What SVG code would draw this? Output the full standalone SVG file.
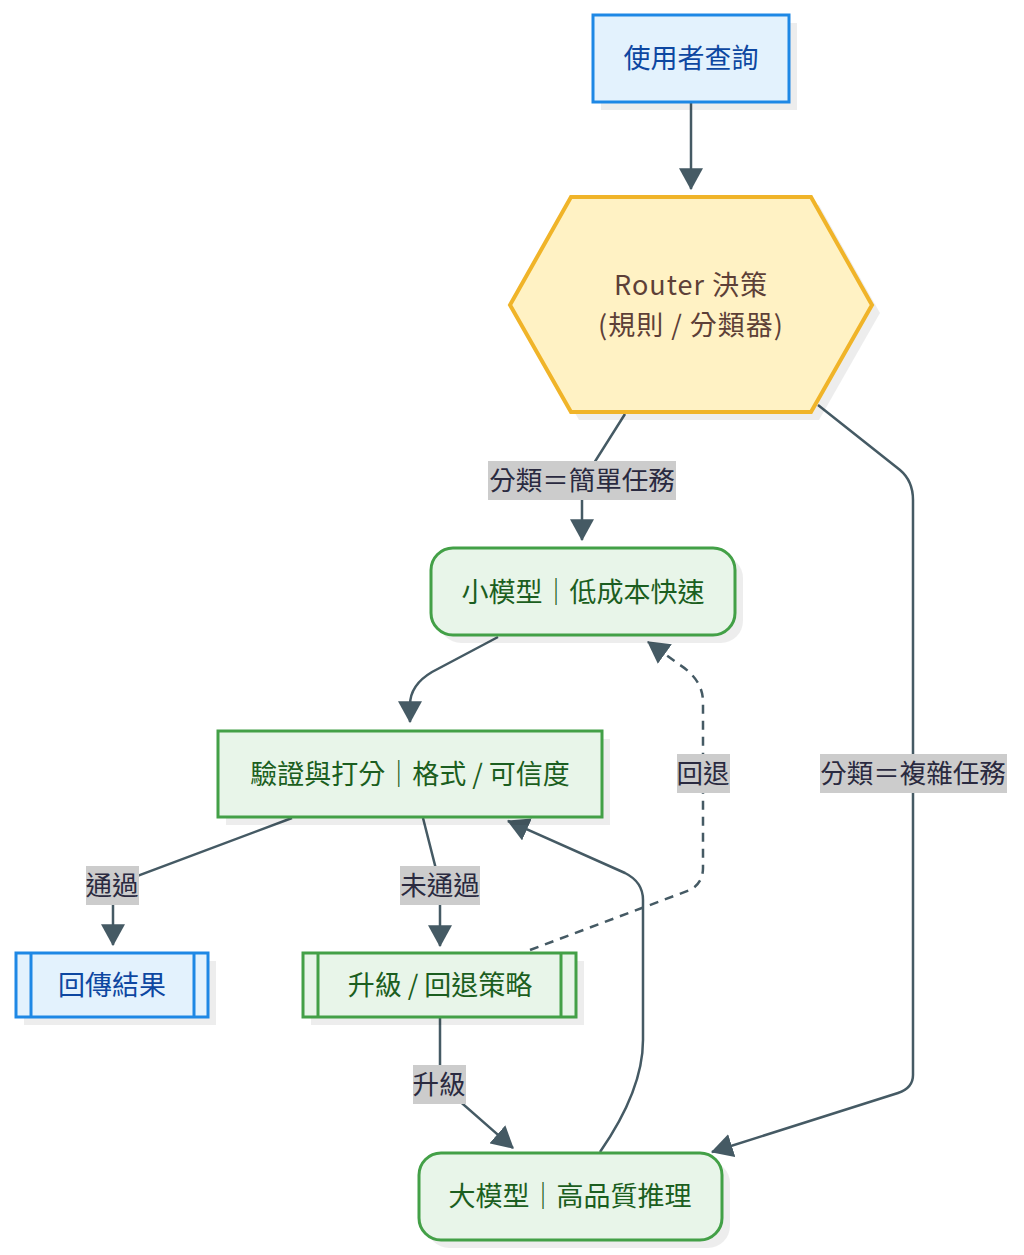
<svg xmlns="http://www.w3.org/2000/svg" width="1024" height="1255" viewBox="0 0 1024 1255">
<style>
  text { font-family: "Noto Sans CJK TC", "Noto Sans", sans-serif; font-size: 27px; text-anchor: middle; dominant-baseline: central; }
  .blue { fill: #e3f2fd; stroke: #1e88e5; stroke-width: 3; }
  .green { fill: #e8f5e9; stroke: #43a047; stroke-width: 3; }
  .yellow { fill: #fff2c4; stroke: #f0b429; stroke-width: 4; }
  .shadow { fill: #000; opacity: 0.07; }
  .tblue { fill: #0d47a1; }
  .tgreen { fill: #1b5e20; }
  .tyellow { fill: #5d4037; letter-spacing: 1px; }
  .edge { fill: none; stroke: #455a64; stroke-width: 2.5; }
  .dash { stroke-dasharray: 9 7; }
  .lbg { fill: #cccccc; }
  .ltxt { fill: #2a2a40; font-size: 26.5px; }
</style>
<defs>
  <marker id="arr" markerUnits="userSpaceOnUse" markerWidth="22" markerHeight="24" viewBox="0 0 20 22" refX="19" refY="11" orient="auto">
    <path d="M0,0 L20,11 L0,22 z" fill="#455a64"/>
  </marker>
</defs>
<rect width="1024" height="1255" fill="#ffffff"/>

<g id="edges">
  <path class="edge" d="M691,102 L691,189" marker-end="url(#arr)"/>
  <path class="edge" d="M625,414 L582,482 L582,540" marker-end="url(#arr)"/>
  <path class="edge" d="M818,405 L900,470 Q913,481 913,500 L913,1075 Q913,1088 898,1093 L712,1152" marker-end="url(#arr)"/>
  <path class="edge" d="M498,637 L432,672 Q410,685 410,705 L410,722" marker-end="url(#arr)"/>
  <path class="edge" d="M292,818 L113,885 L113,945" marker-end="url(#arr)"/>
  <path class="edge" d="M423,818 L440,885 L440,946" marker-end="url(#arr)"/>
  <path class="edge" d="M440,1018 L440,1084 L513,1148" marker-end="url(#arr)"/>
  <path class="edge" d="M600,1152 Q643,1090 643,1040 L643,900 Q643,882 625,873 L508,821" marker-end="url(#arr)"/>
  <path class="edge dash" d="M530,950 L690,890 Q703,883 703,868 L703,702 Q703,680 680,665 L648,642" marker-end="url(#arr)"/>
</g>

<g id="edge-labels">
  <g id="label-simple"><rect class="lbg" x="488" y="461" width="188" height="39"/><text class="ltxt" x="582" y="478">分類＝簡單任務</text></g>
  <g id="label-complex"><rect class="lbg" x="820" y="754" width="187" height="39"/><text class="ltxt" x="913" y="771">分類＝複雜任務</text></g>
  <g id="label-pass"><rect class="lbg" x="86" y="866" width="53" height="39"/><text class="ltxt" x="112" y="883">通過</text></g>
  <g id="label-fail"><rect class="lbg" x="400" y="866" width="80" height="39"/><text class="ltxt" x="440" y="883">未通過</text></g>
  <g id="label-upgrade"><rect class="lbg" x="413" y="1065" width="53" height="39"/><text class="ltxt" x="439" y="1082">升級</text></g>
  <g id="label-fallback"><rect class="lbg" x="677" y="754" width="53" height="39"/><text class="ltxt" x="703" y="771">回退</text></g>
</g>

<g id="node-query">
  <rect class="shadow" x="601" y="23" width="196" height="87"/>
  <rect class="blue" x="593" y="15" width="196" height="87"/>
  <text class="tblue" x="691" y="56">使用者查詢</text>
</g>

<g id="node-router">
  <polygon class="shadow" points="518,313 579,205 819,205 880,313 819,420 579,420"/>
  <polygon class="yellow" points="510,305 571,197 811,197 872,305 811,412 571,412"/>
  <text class="tyellow" x="691" y="283">Router 決策</text>
  <text class="tyellow" x="691" y="323">(規則 / 分類器)</text>
</g>

<g id="node-small">
  <rect class="shadow" x="439" y="556" width="304" height="87" rx="22"/>
  <rect class="green" x="431" y="548" width="304" height="87" rx="22"/>
  <text class="tgreen" x="583" y="590">小模型｜低成本快速</text>
</g>

<g id="node-validate">
  <rect class="shadow" x="226" y="739" width="384" height="86"/>
  <rect class="green" x="218" y="731" width="384" height="86"/>
  <text class="tgreen" x="410" y="772">驗證與打分｜格式 / 可信度</text>
</g>

<g id="node-return">
  <rect class="shadow" x="24" y="961" width="192" height="64"/>
  <rect class="blue" x="16" y="953" width="192" height="64"/>
  <line x1="31" y1="953" x2="31" y2="1017" stroke="#1e88e5" stroke-width="3"/>
  <line x1="194" y1="953" x2="194" y2="1017" stroke="#1e88e5" stroke-width="3"/>
  <text class="tblue" x="112" y="983">回傳結果</text>
</g>

<g id="node-escalate">
  <rect class="shadow" x="311" y="961" width="273" height="64"/>
  <rect class="green" x="303" y="953" width="273" height="64"/>
  <line x1="318" y1="953" x2="318" y2="1017" stroke="#43a047" stroke-width="3"/>
  <line x1="561" y1="953" x2="561" y2="1017" stroke="#43a047" stroke-width="3"/>
  <text class="tgreen" x="440" y="983">升級 / 回退策略</text>
</g>

<g id="node-large">
  <rect class="shadow" x="427" y="1161" width="303" height="87" rx="22"/>
  <rect class="green" x="419" y="1153" width="303" height="87" rx="22"/>
  <text class="tgreen" x="570" y="1194">大模型｜高品質推理</text>
</g>
</svg>
